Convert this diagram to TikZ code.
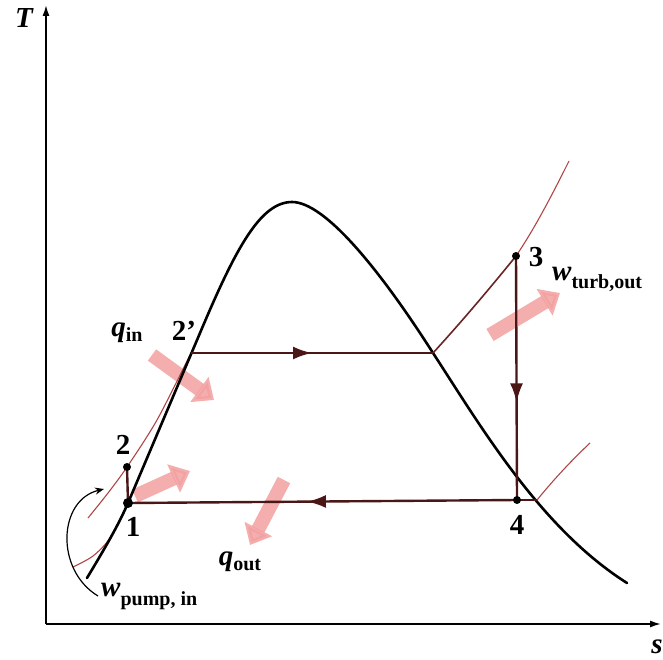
\documentclass[tikz,border=0pt]{standalone}
\usepackage{fontspec}
\setmainfont{Liberation Serif}
\usetikzlibrary{arrows.meta,decorations.markings}
\definecolor{cycred}{RGB}{75,22,22}
\definecolor{thinred}{RGB}{175,70,70}
\definecolor{pinkar}{RGB}{242,160,160}
\newcommand\symsub[3]{{\fontsize{29}{30}\selectfont\bfseries\itshape #1}\raisebox{#3}{\fontsize{20}{22}\selectfont\bfseries #2}}
\begin{document}
\begin{tikzpicture}[x=1pt,y=-1pt,
 axis/.style={line width=1.6pt,-{Latex[length=11pt,width=7pt]}},
 dome/.style={line width=2.6pt,line join=round,line cap=round},
 cyc/.style={line width=2.4pt,cycred},
 supr/.style={line width=1.6pt,cycred!70!thinred},
 thin/.style={line width=1.1pt,thinred},
 midarrow/.style={postaction={decorate},decoration={markings,mark=at position #1 with {\arrow{Latex[length=19pt,width=13pt]}}}},
 heat/.style={pinkar,line width=14pt,-{Triangle[width=30pt,length=18pt]},opacity=0.85},
 dotn/.style={circle,fill=black,inner sep=0pt,minimum size=8pt},
 lbl/.style={font=\fontsize{29}{30}\selectfont\bfseries,inner sep=0pt}
]
\useasboundingbox (0,0) rectangle (663,660);
% coordinates
\coordinate (O) at (46,624);
\coordinate (Ttop) at (46,5);
\coordinate (Send) at (661,624);
\coordinate (p1) at (128,503);
\coordinate (p2) at (127,467);
\coordinate (p2p) at (191,353);
\coordinate (pg) at (433,353);
\coordinate (p3) at (516,256);
\coordinate (p4) at (517,500);
\coordinate (pl) at (537,500);
\coordinate (p3e) at (569,161);
\coordinate (ple) at (590,443);
\coordinate (wa) at (98,596);
\coordinate (wb) at (104,489);
\coordinate (dA) at (87,578);
\coordinate (dB) at (200,333);
\coordinate (dTop) at (292,202);
\coordinate (dE) at (627,583);
\coordinate (h1a) at (152,355); \coordinate (h1b) at (214,400);
\coordinate (h2a) at (135,496); \coordinate (h2b) at (190,471);
\coordinate (h3a) at (284,480); \coordinate (h3b) at (250,545);
\coordinate (h4a) at (490,335); \coordinate (h4b) at (560,293);
% heat / work arrows (beneath)
\draw[heat] (h1a) -- (h1b);
\draw[heat] (h2a) -- (h2b);
\draw[heat] (h3a) -- (h3b);
\draw[heat] (h4a) -- (h4b);
% axes
\draw[axis] (O) -- (Ttop);
\draw[axis] (O) -- (Send);
\node[lbl,font=\fontsize{29}{30}\selectfont\bfseries\itshape] (Tl) at (24,18) {T};
\node[lbl,font=\fontsize{29}{30}\selectfont\bfseries\itshape] (sl) at (657,647) {s};
% thin isobars
\draw[thin] plot[smooth] coordinates {(88,518) (108,493) (127,467) (157,420) (190,355)};
\draw[thin] plot[smooth] coordinates {(73,567) (93,556) (110,538) (128,503)};
\draw[thin] (p3) .. controls (535,228) and (552,195) .. (p3e);
\draw[thin] (pl) .. controls (555,478) and (572,460) .. (ple);
% dome
\draw[dome] (dA) .. controls (105,548) and (118,526) .. (p1) -- (dB)
  .. controls (235,250) and (260,202) .. (dTop)
  .. controls (325,202) and (380,270) .. (pg)
  .. controls (480,425) and (540,528) .. (dE);
% cycle
\draw[cyc, midarrow=0.5] (p2p) -- (pg);
\draw[supr] (pg) .. controls (465,318) and (495,282) .. (p3);
\draw[cyc, midarrow=0.6] (p3) -- (p4);
\draw[cyc, midarrow=0.54] (p4) -- (p1);
\draw[cyc] (p4) -- (pl);
\draw[cyc] (p1) -- (p2);
% pump work arrow
\draw[line width=1.2pt,-{Stealth[length=9pt,width=7pt]}] (wa) .. controls (55,570) and (58,500) .. (wb);
% dots
\node[dotn,minimum size=10pt] (d1) at (p1) {};
\node[dotn] (d2) at (p2) {};
\node[dotn] (d3) at (p3) {};
\node[dotn] (d4) at (p4) {};
% labels
\node[lbl] (l1) at (133,527) {1};
\node[lbl] (l2) at (123,445) {2};
\node[lbl] (l2p) at (184,331) {2’};
\node[lbl] (l3) at (536,257) {3};
\node[lbl] (l4) at (517,525) {4};
\node[inner sep=0pt] (qin) at (127,333) {\symsub{q}{in}{-5pt}};
\node[inner sep=0pt] (qout) at (240,562) {\symsub{q}{out}{-5pt}};
\node[inner sep=0pt,anchor=west] (wp) at (101,596) {\symsub{w}{pump, in}{-9pt}};
\node[inner sep=0pt,anchor=west] (wt) at (552,279) {\symsub{w}{turb,out}{-8pt}};
\end{tikzpicture}
\end{document}
